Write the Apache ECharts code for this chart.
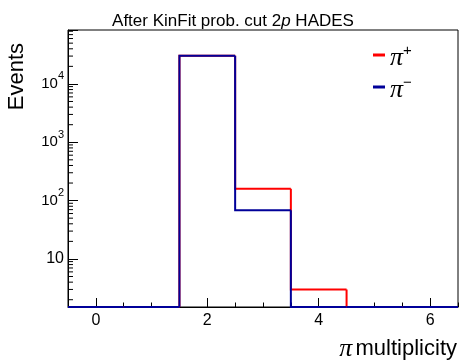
<!DOCTYPE html>
<html><head><meta charset="utf-8">
<script src="https://cdn.jsdelivr.net/npm/echarts@6/dist/echarts.min.js"></script>
<style>html,body{margin:0;padding:0;background:#fff}#c{width:466px;height:360px}</style>
</head><body><div id="c"></div>
<script>
// ---- data ----
const binCenters = [0, 1, 2, 3, 4, 5, 6];
const piPlus  = [0, 0, 30500, 160, 3, 0, 0];
const piMinus = [0, 0, 30500, 68, 0, 0, 0];
const xTickLabels = [0, 2, 4, 6];
const yDecades = [10, 100, 1000, 10000];
const seriesNames = ['π+', 'π−'];

// ---- axis ranges ----
const X_MIN = -0.5, X_MAX = 6.5;
const Y_MIN = 1.5, Y_MAX = 84000;

const SANS = 'Liberation Sans, Arial, Helvetica, sans-serif';
const SERIF = 'Liberation Serif, Times New Roman, serif';

const xMinorTicks = [];
for (let v = X_MIN; v <= X_MAX + 1e-9; v += 0.5) xMinorTicks.push(+v.toFixed(2));
const yMinorTicks = [];
for (let k = 0; k <= 4; k++) {
  for (let m = 2; m <= 9; m++) {
    const v = m * Math.pow(10, k);
    if (v > Y_MIN && v < Y_MAX) yMinorTicks.push(v);
  }
}

function clampY(v) { return v > Y_MIN ? v : Y_MIN; }
function histRender(values, color) {
  return function (params, api) {
    const i = params.dataIndex;
    const x = api.value(0);
    const y = clampY(values[i]);
    const yPrev = i > 0 ? clampY(values[i - 1]) : y;
    const p0 = api.coord([x - 0.5, yPrev]);
    const p1 = api.coord([x - 0.5, y]);
    const p2 = api.coord([x + 0.5, y]);
    return {
      type: 'polyline',
      shape: { points: [p0, p1, p2] },
      style: { stroke: color, lineWidth: 2, fill: null, lineJoin: 'miter' }
    };
  };
}

const chart = echarts.init(document.getElementById('c'), null, { renderer: 'canvas' });
chart.setOption({
  animation: false,
  backgroundColor: '#fff',
  title: {
    text: '{n|After KinFit prob. cut 2}{i|p}{n| HADES}',
    left: 'center',
    top: 8,
    textStyle: {
      fontWeight: 'normal',
      rich: {
        n: { fontFamily: SANS, fontSize: 17, fontWeight: 'normal', color: '#000' },
        i: { fontFamily: SANS, fontSize: 17, fontWeight: 'normal', fontStyle: 'italic', color: '#000' }
      }
    }
  },
  grid: { left: 68, right: 8, top: 30, bottom: 53, show: true, borderColor: '#000', borderWidth: 1, containLabel: false },
  legend: {
    left: 373, top: 43, orient: 'vertical', padding: 0,
    data: seriesNames,
    icon: 'rect', itemWidth: 12, itemHeight: 3, itemGap: 4,
    formatter: function (name) {
      return name === seriesNames[0] ? '{pi|π}{sup|+}' : '{pi|π}{sup|−}';
    },
    textStyle: {
      padding: [4, 0, 0, 0],
      rich: {
        pi: { fontFamily: SERIF, fontStyle: 'italic', fontSize: 26, lineHeight: 28, verticalAlign: 'bottom', color: '#000' },
        sup: { fontFamily: SANS, fontSize: 15, lineHeight: 14, verticalAlign: 'top', color: '#000' }
      }
    }
  },
  xAxis: [{
    type: 'value', min: X_MIN, max: X_MAX,
    axisLine: { show: true, onZero: false, lineStyle: { color: '#000', width: 1 } },
    axisTick: { show: true, inside: true, length: 9, customValues: xTickLabels, lineStyle: { color: '#000' } },
    axisLabel: { show: true, customValues: xTickLabels, margin: 6, fontFamily: SANS, fontSize: 16, color: '#000' },
    splitLine: { show: false }
  }, {
    type: 'value', min: X_MIN, max: X_MAX, position: 'bottom',
    axisLine: { show: false, onZero: false },
    axisTick: { show: true, inside: true, length: 4.5, customValues: xMinorTicks, lineStyle: { color: '#000' } },
    axisLabel: { show: false },
    splitLine: { show: false }
  }],
  yAxis: {
    type: 'log', min: Y_MIN, max: Y_MAX, logBase: 10,
    axisLine: { show: true, onZero: false, lineStyle: { color: '#000', width: 1 } },
    axisTick: { show: true, inside: true, length: 10, lineStyle: { color: '#000' } },
    axisLabel: {
      margin: 4,
      formatter: function (v) {
        const e = Math.log10(v);
        if (Math.abs(e - Math.round(e)) > 1e-6) return '';
        const k = Math.round(e);
        if (yDecades.indexOf(Math.pow(10, k)) < 0) return '';
        if (k === 1) return '{one|10}';
        return '{b|10}{s|' + k + '}';
      },
      rich: {
        one: { fontFamily: SANS, fontSize: 16, lineHeight: 18, color: '#000' },
        b: { fontFamily: SANS, fontSize: 15, lineHeight: 26, verticalAlign: 'middle', color: '#000' },
        s: { fontFamily: SANS, fontSize: 11, lineHeight: 11, verticalAlign: 'top', color: '#000' }
      }
    },
    splitLine: { show: false }
  },
  graphic: [
    {
      type: 'text', x: 17, y: 43, rotation: Math.PI / 2,
      style: { text: 'Events', font: '22px ' + SANS, fill: '#000', textAlign: 'right', textVerticalAlign: 'middle' }
    },
    {
      type: 'text', x: 457, y: 349,
      style: {
        text: '{pi|π} {t|multiplicity}', textAlign: 'right', textVerticalAlign: 'middle',
        rich: {
          pi: { fontFamily: SERIF, fontStyle: 'italic', fontSize: 26, fill: '#000' },
          t: { fontFamily: SANS, fontSize: 22, fill: '#000' }
        }
      }
    }
  ],
  series: [
    {
      name: 'yminor', type: 'custom', xAxisIndex: 0, yAxisIndex: 0, silent: true, z: 1,
      data: yMinorTicks.map(v => [X_MIN, v]),
      renderItem: function (params, api) {
        const p = api.coord([X_MIN, api.value(1)]);
        return { type: 'line', shape: { x1: p[0], y1: p[1], x2: p[0] + 5, y2: p[1] }, style: { stroke: '#000', lineWidth: 1 } };
      }
    },
    {
      name: seriesNames[0], type: 'custom', xAxisIndex: 0, yAxisIndex: 0, z: 3,
      itemStyle: { color: '#ff0000' },
      data: binCenters.map((x, i) => [x, piPlus[i]]),
      renderItem: histRender(piPlus, '#ff0000')
    },
    {
      name: seriesNames[1], type: 'custom', xAxisIndex: 0, yAxisIndex: 0, z: 4,
      itemStyle: { color: '#000099' },
      data: binCenters.map((x, i) => [x, piMinus[i]]),
      renderItem: histRender(piMinus, '#000099')
    }
  ]
});
</script></body></html>
